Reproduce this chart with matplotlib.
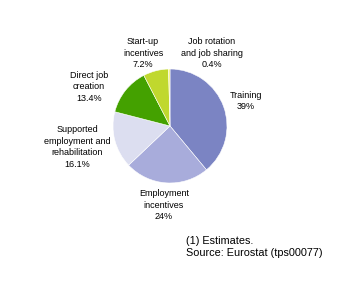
import matplotlib.pyplot as plt

# slice data, clockwise from 12 o'clock
names = ['Training', 'Employment\nincentives', 'Supported\nemployment and\nrehabilitation',
         'Direct job\ncreation', 'Start-up\nincentives', 'Job rotation\nand job sharing']
shares = [39, 24, 16.1, 13.4, 7.2, 0.4]
colors = ['#7b84c3', '#a8acdb', '#dcdef0', '#44a100', '#c0d82e', '#f4f060']

# label centres in pixels (x, y from top)
label_pos = [(246, 101), (164, 205), (77, 147), (89, 87), (143, 53), (212, 53)]

W, H = 350, 284
fig = plt.figure(figsize=(W / 100, H / 100), dpi=100)
fig.patch.set_facecolor('white')

cx, cy, r = 170, 126, 57
ax = fig.add_axes([(cx - r) / W, (H - cy - r) / H, 2 * r / W, 2 * r / H])
ax.pie(shares, colors=colors, startangle=90, counterclock=False, radius=1,
       wedgeprops={'linewidth': 0.4, 'edgecolor': 'white'})
ax.set_xlim(-1, 1)
ax.set_ylim(-1, 1)
ax.set_aspect('equal')
ax.axis('off')

for name, val, (x, y) in zip(names, shares, label_pos):
    txt = name + '\n' + ('%g' % val) + '%'
    fig.text(x / W, 1 - y / H, txt, ha='center', va='center', fontsize=6.5,
             linespacing=1.4, family='Liberation Sans')

fig.text(186 / W, 1 - 241 / H, '(1) Estimates.', ha='left', va='center',
         fontsize=7.8, family='Liberation Sans')
fig.text(186 / W, 1 - 253 / H, 'Source: Eurostat (tps00077)', ha='left', va='center',
         fontsize=7.8, family='Liberation Sans')

fig.savefig('out.png', dpi=100)
